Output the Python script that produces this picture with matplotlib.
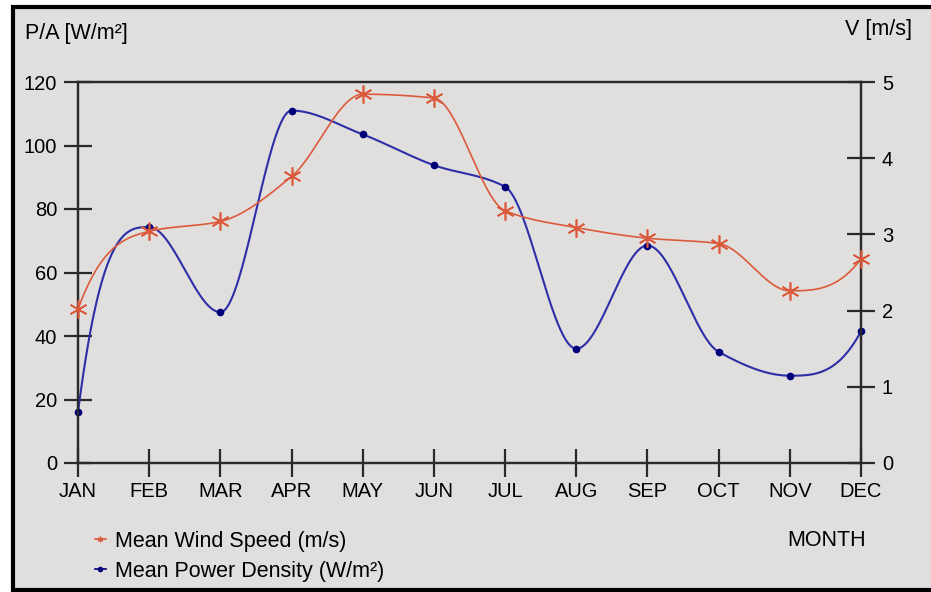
import matplotlib
matplotlib.use('Agg')
import matplotlib.pyplot as plt
import numpy as np
from matplotlib.patches import Rectangle

months = ['JAN', 'FEB', 'MAR', 'APR', 'MAY', 'JUN', 'JUL', 'AUG', 'SEP', 'OCT', 'NOV', 'DEC']
power_density = [16.0, 74.3, 47.5, 111.0, 103.5, 93.8, 87.0, 36.0, 68.5, 35.0, 27.5, 41.5]
wind_speed = [2.02, 3.04, 3.17, 3.76, 4.84, 4.79, 3.31, 3.09, 2.95, 2.88, 2.26, 2.68]

plt.rcParams['font.family'] = ['Liberation Sans', 'DejaVu Sans']

BG = '#e0dfdd'
AX_COL = '#2a2a2a'
BLUE = '#2e2ea8'
BLUE_DOT = '#000078'
RED = '#dc5a3c'


def pchip(xs, ys, n=60):
    # monotone cubic through the points, for the smooth line
    xs = np.asarray(xs, float)
    ys = np.asarray(ys, float)
    h = np.diff(xs)
    d = np.diff(ys) / h
    m = np.zeros_like(ys)
    for k in range(1, len(ys) - 1):
        if d[k - 1] * d[k] > 0:
            w1 = 2 * h[k] + h[k - 1]
            w2 = h[k] + 2 * h[k - 1]
            m[k] = (w1 + w2) / (w1 / d[k - 1] + w2 / d[k])
    # steep start / end, like the original software draws it
    m[0] = 3 * d[0] if m[1] == 0 else min(3 * abs(d[0]), abs(d[0]) * 2.5) * np.sign(d[0])
    m[-1] = 3 * d[-1] if m[-2] == 0 else 2.5 * d[-1]
    outx, outy = [], []
    for k in range(len(h)):
        t = np.linspace(0, 1, n)
        h00 = 2 * t**3 - 3 * t**2 + 1
        h10 = t**3 - 2 * t**2 + t
        h01 = -2 * t**3 + 3 * t**2
        h11 = t**3 - t**2
        yy = h00 * ys[k] + h10 * h[k] * m[k] + h01 * ys[k + 1] + h11 * h[k] * m[k + 1]
        xx = xs[k] + t * h[k]
        if k > 0:
            xx, yy = xx[1:], yy[1:]
        outx.append(xx)
        outy.append(yy)
    return np.concatenate(outx), np.concatenate(outy)


fig = plt.figure(figsize=(9.31, 5.92), dpi=100)
fig.patch.set_facecolor('white')
fig.patches.append(Rectangle((13 / 931, 2 / 592), 1.0, (592 - 9) / 592,
                             transform=fig.transFigure, facecolor=BG,
                             edgecolor='black', linewidth=3, zorder=-10))

ax = fig.add_axes([78 / 931, 1 - 463 / 592, (861 - 78) / 931, (463 - 82) / 592])
ax.set_facecolor(BG)
ax2 = ax.twinx()

x = np.arange(len(months))

bx, by = pchip(x, power_density)
ax.plot(bx, by, color=BLUE, lw=1.5, clip_on=False, zorder=3)
ax.plot(x, power_density, ls='none', marker='o', ms=4.5, color=BLUE_DOT, clip_on=False, zorder=4)

rx, ry = pchip(x, wind_speed)
ax2.plot(rx, ry, color=RED, lw=1.2, clip_on=False, zorder=3)
ax2.plot(x, wind_speed, ls='none', marker=(6, 2, 0), ms=13, mew=1.2, color=RED, clip_on=False, zorder=4)

ax.set_xlim(0, 11)
ax.set_ylim(0, 120)
ax2.set_ylim(0, 5)
ax.set_xticks(x)
ax.set_xticklabels(months)
ax.set_yticks(np.arange(0, 121, 20))
ax2.set_yticks(np.arange(0, 6, 1))

for a in (ax, ax2):
    for s in a.spines.values():
        s.set_color(AX_COL)
        s.set_linewidth(1.6)
    a.tick_params(direction='inout', length=20, width=1.6, color=AX_COL,
                  labelsize=14.5, labelcolor='black', pad=5)
ax.tick_params(axis='x', pad=4)

fig.text(25 / 931, 1 - 33 / 592, 'P/A [W/m²]', fontsize=15.5, va='center', ha='left')
fig.text(912 / 931, 1 - 30 / 592, 'V [m/s]', fontsize=15.5, va='center', ha='right')
fig.text(866 / 931, 1 - 541 / 592, 'MONTH', fontsize=15.5, va='center', ha='right')

# legend
h1 = plt.Line2D([], [], color=RED, lw=1.2, marker=(6, 2, 0), ms=4, mew=1)
h2 = plt.Line2D([], [], color=BLUE_DOT, lw=1.2, marker='o', ms=3)
fig.legend([h1, h2], ['Mean Wind Speed (m/s)', 'Mean Power Density (W/m²)'],
           loc='upper left', bbox_to_anchor=(95 / 931, 1 - 531 / 592), frameon=False,
           fontsize=15.5, handlelength=0.5, handletextpad=0.45, labelspacing=0.4,
           borderaxespad=0, borderpad=0)

fig.savefig('out.png', dpi=100, facecolor=fig.get_facecolor())
